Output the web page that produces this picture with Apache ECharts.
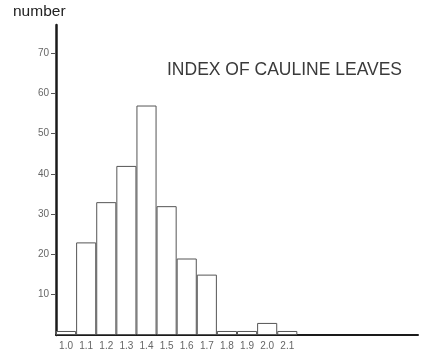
<!DOCTYPE html>
<html>
<head>
<meta charset="utf-8">
<script src="https://cdn.jsdelivr.net/npm/echarts@6/dist/echarts.min.js"></script>
<style>
html,body{margin:0;padding:0;background:#fff;}
#c{width:424px;height:357px;}
</style>
</head>
<body>
<div id="c"></div>
<script>
// bins of the index (category axis), the last ones are empty space
const bins = ["1.0","1.1","1.2","1.3","1.4","1.5","1.6","1.7","1.8","1.9","2.0","2.1","2.2","2.3","2.4","2.5","2.6","2.7"];
const counts = [1, 23, 33, 42, 57, 32, 19, 15, 1, 1, 3, 1];
const yTicks = [10, 20, 30, 40, 50, 60, 70];
const titleText = "INDEX OF CAULINE LEAVES";
const yName = "number";

const chart = echarts.init(document.getElementById('c'), null, {renderer: 'canvas'});
chart.setOption({
  animation: false,
  backgroundColor: '#ffffff',
  grid: {left: 56, right: 6, top: 25, bottom: 22, containLabel: false},
  graphic: [
    {type: 'text', left: 13, top: 4, style: {text: yName, fontFamily: 'Liberation Sans, Arial, sans-serif', fontSize: 15.5, fill: '#222'}},
    {type: 'text', left: 167, top: 61, style: {text: titleText, fontFamily: 'Liberation Sans, Arial, sans-serif', fontSize: 17.5, fill: '#3a3a3a'}}
  ],
  xAxis: {
    type: 'category',
    data: bins,
    boundaryGap: true,
    axisLine: {show: true, lineStyle: {color: '#1a1a1a', width: 2}},
    axisTick: {show: false},
    axisLabel: {
      interval: 0,
      fontFamily: 'Liberation Sans, Arial, sans-serif',
      fontSize: 10,
      color: '#666',
      margin: 6,
      formatter: (v, i) => (i < counts.length ? v : '')
    },
    splitLine: {show: false}
  },
  yAxis: {
    type: 'value',
    min: 0,
    max: 77,
    interval: 10,
    axisLine: {show: true, lineStyle: {color: '#1a1a1a', width: 2.5}},
    axisTick: {show: true, length: 5, customValues: yTicks, lineStyle: {color: '#555', width: 1}},
    axisLabel: {
      fontFamily: 'Liberation Sans, Arial, sans-serif',
      fontSize: 10,
      color: '#666',
      margin: 7,
      customValues: yTicks,
      formatter: v => String(v)
    },
    splitLine: {show: false}
  },
  series: [{
    type: 'bar',
    data: counts,
    barCategoryGap: '0%',
    itemStyle: {color: '#ffffff', borderColor: '#555', borderWidth: 1}
  }]
});
</script>
</body>
</html>
